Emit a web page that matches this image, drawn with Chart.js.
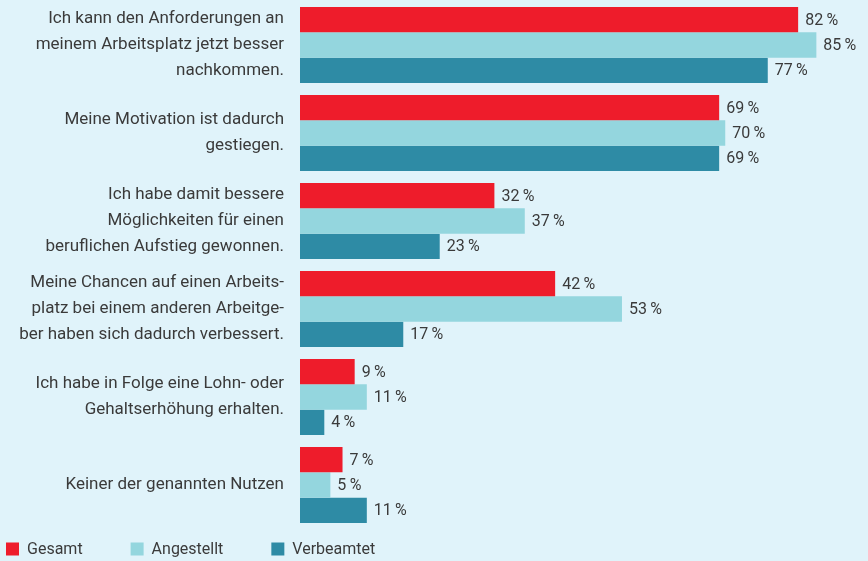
<!DOCTYPE html>
<html>
<head>
<meta charset="utf-8">
<script src="https://cdn.jsdelivr.net/npm/chart.js@4.4.1/dist/chart.umd.min.js"></script>
<style>
  html, body { margin: 0; padding: 0; background: #e0f3fa; }
  canvas { display: block; }
</style>
</head>
<body>
<canvas id="chart" width="868" height="561"></canvas>
<script>
const categories = [
    ['Ich kann den Anforderungen an', 'meinem Arbeitsplatz jetzt besser', 'nachkommen.'],
    ['Meine Motivation ist dadurch', 'gestiegen.'],
    ['Ich habe damit bessere', 'Möglichkeiten für einen', 'beruflichen Aufstieg gewonnen.'],
    ['Meine Chancen auf einen Arbeits-', 'platz bei einem anderen Arbeitge-', 'ber haben sich dadurch verbessert.'],
    ['Ich habe in Folge eine Lohn- oder', 'Gehaltserhöhung erhalten.'],
    ['Keiner der genannten Nutzen']
];
const seriesNames = ['Gesamt', 'Angestellt', 'Verbeamtet'];
const gesamt = [82, 69, 32, 42, 9, 7];
const angestellt = [85, 70, 37, 53, 11, 5];
const verbeamtet = [77, 69, 23, 17, 4, 11];

const colors = ['#ee1c2b', '#94d6de', '#2e8ba5'];
const fontFamily = 'Roboto, "Open Sans", sans-serif';
const textColor = '#3a3a3a';

// prozentwerte hinter die balken schreiben
const valueLabels = {
    id: 'valueLabels',
    afterDatasetsDraw(chart) {
        const ctx = chart.ctx;
        ctx.save();
        ctx.font = '16px ' + fontFamily;
        ctx.fillStyle = textColor;
        ctx.textBaseline = 'middle';
        ctx.textAlign = 'left';
        chart.data.datasets.forEach((ds, i) => {
            chart.getDatasetMeta(i).data.forEach((bar, j) => {
                ctx.fillText(ds.data[j] + '\u2009%', bar.x + 7, bar.y + 1);
            });
        });
        ctx.restore();
    }
};

// legende unten links, eigene abstaende
const bottomLegend = {
    id: 'bottomLegend',
    afterDraw(chart) {
        const ctx = chart.ctx;
        ctx.save();
        ctx.font = '16px ' + fontFamily;
        ctx.textBaseline = 'middle';
        let x = 6;
        const y = 549;
        chart.data.datasets.forEach((ds, i) => {
            ctx.fillStyle = ds.backgroundColor;
            ctx.fillRect(x, y - 6.5, 13, 13);
            ctx.fillStyle = textColor;
            ctx.fillText(ds.label, x + 21, y + 1);
            x += 21 + ctx.measureText(ds.label).width + 48;
        });
        ctx.restore();
    }
};

new Chart(document.getElementById('chart'), {
    type: 'bar',
    plugins: [valueLabels, bottomLegend],
    data: {
        labels: categories,
        datasets: [
            { label: seriesNames[0], data: gesamt, backgroundColor: colors[0] },
            { label: seriesNames[1], data: angestellt, backgroundColor: colors[1] },
            { label: seriesNames[2], data: verbeamtet, backgroundColor: colors[2] }
        ]
    },
    options: {
        indexAxis: 'y',
        responsive: false,
        animation: false,
        datasets: {
            bar: { barPercentage: 1, categoryPercentage: 0.864, borderWidth: 0 }
        },
        layout: { padding: { top: 1, bottom: 32, right: 0, left: 0 } },
        scales: {
            x: {
                display: false,
                min: 0,
                max: 93.5
            },
            y: {
                grid: { display: false, drawTicks: false },
                border: { display: false },
                afterFit: scale => {
                    scale.width = 300;
                    scale.paddingTop = 0;
                    scale.paddingBottom = 0;
                },
                ticks: {
                    padding: 16,
                    crossAlign: 'near',
                    color: textColor,
                    font: { family: fontFamily, size: 17, lineHeight: 1.53 }
                }
            }
        },
        plugins: {
            legend: { display: false },
            tooltip: { enabled: false }
        }
    }
});
</script>
</body>
</html>
